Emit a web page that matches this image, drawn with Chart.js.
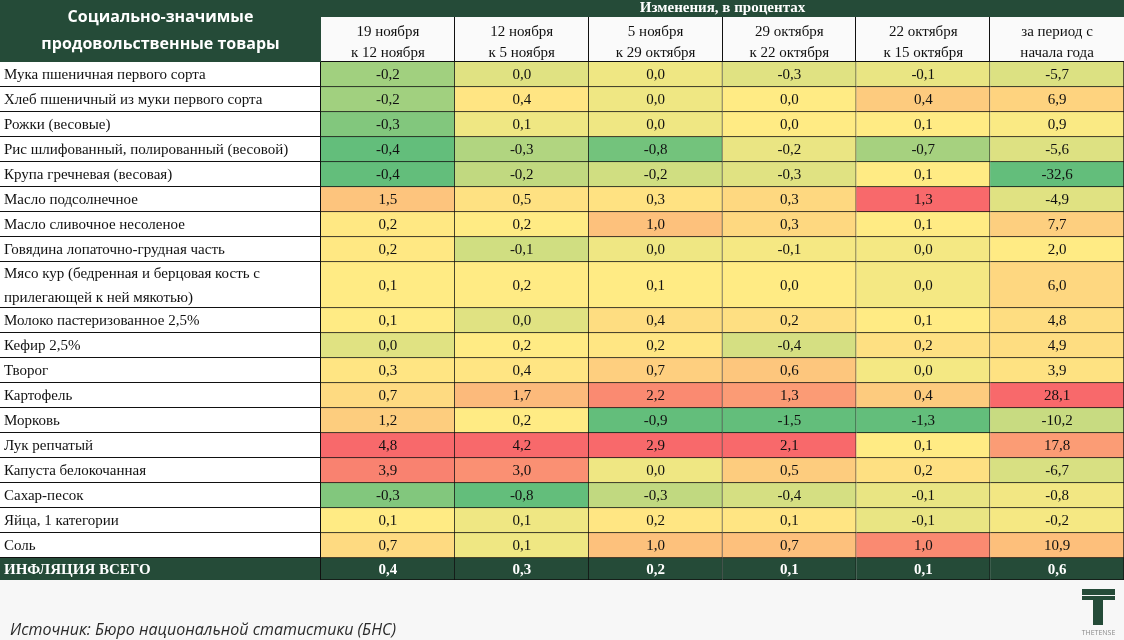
<!DOCTYPE html>
<html lang="ru">
<head>
<meta charset="utf-8">
<title>Социально-значимые продовольственные товары</title>
<script src="https://cdn.jsdelivr.net/npm/chart.js@4/dist/chart.umd.min.js"></script>
<style>
  html, body { margin: 0; padding: 0; background: #f7f7f7; }
  #wrap { position: relative; width: 1124px; height: 640px; }
</style>
</head>
<body>
<div id="wrap"><canvas id="chart" width="1124" height="640"></canvas></div>
<script>
// Товары (строки таблицы)
const products = [
    'Мука пшеничная первого сорта',
    'Хлеб пшеничный из муки первого сорта',
    'Рожки (весовые)',
    'Рис шлифованный, полированный (весовой)',
    'Крупа гречневая (весовая)',
    'Масло подсолнечное',
    'Масло сливочное несоленое',
    'Говядина лопаточно-грудная часть',
    ['Мясо кур (бедренная и берцовая кость с', 'прилегающей к ней мякотью)'],
    'Молоко пастеризованное 2,5%',
    'Кефир 2,5%',
    'Творог',
    'Картофель',
    'Морковь',
    'Лук репчатый',
    'Капуста белокочанная',
    'Сахар-песок',
    'Яйца, 1 категории',
    'Соль'
];
const totalLabel = 'ИНФЛЯЦИЯ ВСЕГО';

// Периоды (столбцы)
const periods = [
    ['19 ноября', 'к 12 ноября'],
    ['12 ноября', 'к 5 ноября'],
    ['5 ноября', 'к 29 октября'],
    ['29 октября', 'к 22 октября'],
    ['22 октября', 'к 15 октября'],
    ['за период с', 'начала года']
];

// Изменения, в процентах (по столбцам)
const nov19 = [-0.2, -0.2, -0.3, -0.4, -0.4, 1.5, 0.2, 0.2, 0.1, 0.1, 0.0, 0.3, 0.7, 1.2, 4.8, 3.9, -0.3, 0.1, 0.7];
const nov12 = [0.0, 0.4, 0.1, -0.3, -0.2, 0.5, 0.2, -0.1, 0.2, 0.0, 0.2, 0.4, 1.7, 0.2, 4.2, 3.0, -0.8, 0.1, 0.1];
const nov5  = [0.0, 0.0, 0.0, -0.8, -0.2, 0.3, 1.0, 0.0, 0.1, 0.4, 0.2, 0.7, 2.2, -0.9, 2.9, 0.0, -0.3, 0.2, 1.0];
const oct29 = [-0.3, 0.0, 0.0, -0.2, -0.3, 0.3, 0.3, -0.1, 0.0, 0.2, -0.4, 0.6, 1.3, -1.5, 2.1, 0.5, -0.4, 0.1, 0.7];
const oct22 = [-0.1, 0.4, 0.1, -0.7, 0.1, 1.3, 0.1, 0.0, 0.0, 0.1, 0.2, 0.0, 0.4, -1.3, 0.1, 0.2, -0.1, -0.1, 1.0];
const ytd   = [-5.7, 6.9, 0.9, -5.6, -32.6, -4.9, 7.7, 2.0, 6.0, 4.8, 4.9, 3.9, 28.1, -10.2, 17.8, -6.7, -0.8, -0.2, 10.9];
const inflation = [0.4, 0.3, 0.2, 0.1, 0.1, 0.6];

const columns = [nov19, nov12, nov5, oct29, oct22, ytd];

const DARK = '#254b38';
const SERIF = '"Liberation Serif", "Times New Roman", serif';

// Высота строк (в пикселях шкалы)
const rowH = products.map(p => Array.isArray(p) ? 46 : 25);
rowH.push(22); // итоговая строка
const rowTop = [];
let acc = 0;
rowH.forEach(h => { rowTop.push(acc); acc += h; });
const totalH = acc;
const rowCenters = rowTop.map((t, i) => t + rowH[i] / 2);
const allLabels = products.concat([totalLabel]);
const lastRow = allLabels.length - 1;

// Цветовая шкала как в Excel: зелёный - жёлтый (медиана) - красный
const GREEN = [99, 190, 123], YELLOW = [255, 235, 132], RED = [248, 105, 107];
function mix(a, b, t) {
    t = Math.max(0, Math.min(1, t));
    return 'rgb(' + a.map((v, i) => Math.round(v + (b[i] - v) * t)).join(',') + ')';
}
function cellColor(v, col) {
    const s = [...col].sort((a, b) => a - b);
    const min = s[0], max = s[s.length - 1];
    const k = (s.length - 1) / 2;
    const mid = s[Math.floor(k)] + (s[Math.ceil(k)] - s[Math.floor(k)]) * (k - Math.floor(k));
    if (v <= mid) return mix(GREEN, YELLOW, mid === min ? 1 : (v - min) / (mid - min));
    return mix(YELLOW, RED, max === mid ? 0 : (v - mid) / (max - mid));
}

const fmt = v => v.toFixed(1).replace('.', ',');

// Один набор данных на строку: плавающие столбики = ячейки
const datasets = allLabels.map((name, r) => {
    const last = r === lastRow;
    const vals = columns.map((col, c) => last ? inflation[c] : col[r]);
    return {
        label: Array.isArray(name) ? name.join(' ') : name,
        values: vals,
        data: vals.map(() => [rowTop[r], rowTop[r] + rowH[r]]),
        backgroundColor: vals.map((v, c) => last ? DARK : cellColor(v, columns[c])),
        borderColor: '#111',
        borderWidth: { top: 0, left: 0, right: 1, bottom: 1 },
        borderSkipped: false,
        grouped: false,
        barPercentage: 1,
        categoryPercentage: 1
    };
});

const tablePlugin = {
    id: 'table',
    beforeDraw(chart) {
        const { ctx, chartArea: a, scales: { x, y } } = chart;
        ctx.save();
        ctx.fillStyle = '#f7f7f7';
        ctx.fillRect(0, 0, chart.width, chart.height);
        // шапка
        ctx.fillStyle = DARK;
        ctx.fillRect(0, 0, a.left, a.top);
        ctx.fillRect(a.left, 0, a.right - a.left, 17);
        ctx.fillStyle = '#fafafa';
        ctx.fillRect(a.left, 17, a.right - a.left, a.top - 17);
        // столбец наименований
        ctx.fillStyle = '#ffffff';
        ctx.fillRect(0, a.top, a.left, a.bottom - a.top);
        ctx.fillStyle = DARK;
        const ty = y.getPixelForValue(rowTop[lastRow]);
        ctx.fillRect(0, ty, a.left, a.bottom - ty);
        // линии
        ctx.strokeStyle = '#111';
        ctx.lineWidth = 1;
        ctx.beginPath();
        rowTop.forEach((t, i) => {
            if (i === 0) return;
            const py = Math.round(y.getPixelForValue(t)) - 0.5;
            ctx.moveTo(0, py); ctx.lineTo(a.left, py);
        });
        ctx.moveTo(a.left - 0.5, a.top); ctx.lineTo(a.left - 0.5, a.bottom);
        ctx.moveTo(a.left, a.top - 0.5); ctx.lineTo(a.right, a.top - 0.5);
        for (let i = 1; i < periods.length; i++) {
            const px = Math.round(x.getPixelForValue(i - 0.5)) - 0.5;
            ctx.moveTo(px, 17); ctx.lineTo(px, a.top);
        }
        ctx.stroke();
        // заголовки
        ctx.fillStyle = '#ffffff';
        ctx.textAlign = 'center';
        ctx.textBaseline = 'middle';
        ctx.font = 'bold 16px "Open Sans", sans-serif';
        ctx.fillText('Социально-значимые', a.left / 2, 17);
        ctx.fillText('продовольственные товары', a.left / 2, 44);
        ctx.font = 'bold 15px ' + SERIF;
        ctx.fillText('Изменения, в процентах', (a.left + a.right) / 2, 8.5);
        ctx.restore();
    },
    afterDatasetsDraw(chart) {
        const { ctx } = chart;
        ctx.save();
        ctx.textAlign = 'center';
        ctx.textBaseline = 'middle';
        chart.data.datasets.forEach((ds, r) => {
            const last = r === lastRow;
            ctx.font = (last ? 'bold ' : '') + '15px ' + SERIF;
            ctx.fillStyle = last ? '#ffffff' : '#111';
            chart.getDatasetMeta(r).data.forEach((el, c) => {
                ctx.fillText(fmt(ds.values[c]), el.x, (el.y + el.base) / 2 + 1);
            });
        });
        ctx.restore();
    },
    afterDraw(chart) {
        const { ctx } = chart;
        ctx.save();
        ctx.fillStyle = '#2b2b2b';
        ctx.textBaseline = 'middle';
        ctx.font = 'italic 16px "Open Sans", sans-serif';
        ctx.fillText('Источник: Бюро национальной статистики (БНС)', 10, 630);
        // логотип
        ctx.fillStyle = DARK;
        ctx.fillRect(1082, 589, 33, 6);
        ctx.fillRect(1082, 596, 33, 4);
        ctx.fillRect(1093, 600, 10, 25);
        ctx.fillStyle = '#8a8a8a';
        ctx.font = '7px "Open Sans", sans-serif';
        ctx.textAlign = 'center';
        ctx.fillText('THETENSE', 1098.5, 633);
        ctx.restore();
    }
};

new Chart(document.getElementById('chart'), {
    type: 'bar',
    data: { labels: periods, datasets },
    options: {
        responsive: false,
        animation: false,
        layout: { padding: { left: 4, right: 0, top: 0, bottom: 60 } },
        plugins: { legend: { display: false }, title: { display: false }, tooltip: { enabled: false } },
        scales: {
            x: {
                type: 'category',
                position: 'top',
                offset: true,
                grid: { display: false, drawTicks: false },
                border: { display: false },
                ticks: {
                    autoSkip: false,
                    maxRotation: 0,
                    padding: -2,
                    color: '#111',
                    font: { family: SERIF, size: 15, lineHeight: 1.4 }
                },
                afterFit(scale) { scale.height = 62; }
            },
            y: {
                type: 'linear',
                reverse: true,
                min: 0,
                max: totalH,
                grid: { display: false, drawTicks: false },
                border: { display: false },
                afterBuildTicks(scale) { scale.ticks = rowCenters.map(v => ({ value: v + 1 })); },
                ticks: {
                    autoSkip: false,
                    crossAlign: 'far',
                    padding: 0,
                    callback: (v, i) => allLabels[i],
                    color: ctx => ctx.index === lastRow ? '#ffffff' : '#111',
                    font: ctx => ({
                        family: SERIF,
                        size: 15,
                        weight: ctx.index === lastRow ? 'bold' : 'normal',
                        lineHeight: 1.6
                    })
                },
                afterFit(scale) { scale.width = 317; }
            }
        }
    },
    plugins: [tablePlugin]
});
</script>
</body>
</html>
